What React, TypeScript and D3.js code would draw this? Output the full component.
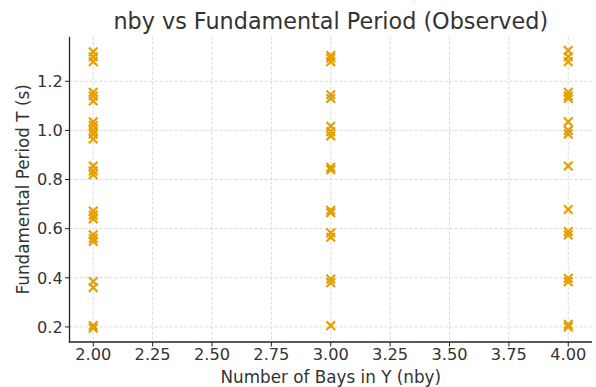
import React from "react";
import * as d3 from "d3";

const nbyTwo = [1.32, 1.30, 1.28, 1.155, 1.14, 1.12, 1.035, 1.02, 1.0, 0.985, 0.965, 0.855, 0.835, 0.82, 0.672, 0.655, 0.64, 0.575, 0.56, 0.548, 0.385, 0.36, 0.205, 0.195];
const nbyThree = [1.305, 1.295, 1.28, 1.145, 1.13, 1.017, 0.995, 0.978, 0.85, 0.84, 0.675, 0.665, 0.583, 0.565, 0.395, 0.38, 0.205];
const nbyFour = [1.325, 1.30, 1.28, 1.155, 1.14, 1.13, 1.035, 1.0, 0.985, 0.855, 0.678, 0.588, 0.574, 0.398, 0.384, 0.21, 0.2];

const groups: { nby: number; periods: number[] }[] = [
  { nby: 2, periods: nbyTwo },
  { nby: 3, periods: nbyThree },
  { nby: 4, periods: nbyFour },
];

const xTicks = [2.0, 2.25, 2.5, 2.75, 3.0, 3.25, 3.5, 3.75, 4.0];
const yTicks = [0.2, 0.4, 0.6, 0.8, 1.0, 1.2];

const W = 596;
const H = 387;
const FONT = "'DejaVu Sans', sans-serif";

export default function App() {
  const points = groups.flatMap((g) => g.periods.map((p) => ({ x: g.nby, y: p })));
  const ys = points.map((p) => p.y);
  const yMin = d3.min(ys)!;
  const yMax = d3.max(ys)!;
  const yPad = (yMax - yMin) * 0.05;

  const x = d3.scaleLinear().domain([1.9, 4.1]).range([69.5, 592]);
  const y = d3.scaleLinear().domain([yMin - yPad, yMax + yPad]).range([342, 36.7]);

  const [x0, x1] = x.range();
  const [y0, y1] = y.range();
  const m = 4.3;

  return (
    <svg
      width={W}
      height={H}
      style={{ position: "absolute", left: 0, top: 0, background: "#fff" }}
      fontFamily={FONT}
    >
      {/* grid */}
      {xTicks.map((t) => (
        <line key={"gx" + t} x1={x(t)} x2={x(t)} y1={y1} y2={y0} stroke="#d0d0d0" strokeWidth={0.8} strokeDasharray="3,2" />
      ))}
      {yTicks.map((t) => (
        <line key={"gy" + t} x1={x0} x2={x1} y1={y(t)} y2={y(t)} stroke="#d0d0d0" strokeWidth={0.8} strokeDasharray="3,2" />
      ))}

      {/* markers */}
      {points.map((p, i) => (
        <g key={i} stroke="#E69F00" strokeWidth={2.2} strokeLinecap="butt">
          <line x1={x(p.x) - m} y1={y(p.y) - m} x2={x(p.x) + m} y2={y(p.y) + m} />
          <line x1={x(p.x) - m} y1={y(p.y) + m} x2={x(p.x) + m} y2={y(p.y) - m} />
        </g>
      ))}

      {/* spines */}
      <line x1={x0} x2={x0} y1={y1} y2={y0 + 0.6} stroke="#222" strokeWidth={1.3} />
      <line x1={x0 - 0.6} x2={x1} y1={y0} y2={y0} stroke="#222" strokeWidth={1.3} />

      {/* x ticks */}
      {xTicks.map((t) => (
        <g key={"xt" + t}>
          <line x1={x(t)} x2={x(t)} y1={y0} y2={y0 + 4.5} stroke="#222" strokeWidth={1} />
          <text x={x(t)} y={359.5} textAnchor="middle" fontSize={16.2} fill="#333">
            {t.toFixed(2)}
          </text>
        </g>
      ))}

      {/* y ticks */}
      {yTicks.map((t) => (
        <g key={"yt" + t}>
          <line x1={x0 - 4.5} x2={x0} y1={y(t)} y2={y(t)} stroke="#222" strokeWidth={1} />
          <text x={x0 - 6.8} y={y(t) + 5.8} textAnchor="end" fontSize={16.2} fill="#333">
            {t.toFixed(1)}
          </text>
        </g>
      ))}

      {/* labels */}
      <text x={(x0 + x1) / 2} y={382.5} textAnchor="middle" fontSize={16.8} fill="#333">
        Number of Bays in Y (nby)
      </text>
      <text
        transform={`translate(29.3,${(y0 + y1) / 2}) rotate(-90)`}
        textAnchor="middle"
        fontSize={16.8}
        fill="#333"
      >
        Fundamental Period T (s)
      </text>
      <text x={(x0 + x1) / 2} y={29.3} textAnchor="middle" fontSize={22.3} fill="#333">
        nby vs Fundamental Period (Observed)
      </text>
    </svg>
  );
}
